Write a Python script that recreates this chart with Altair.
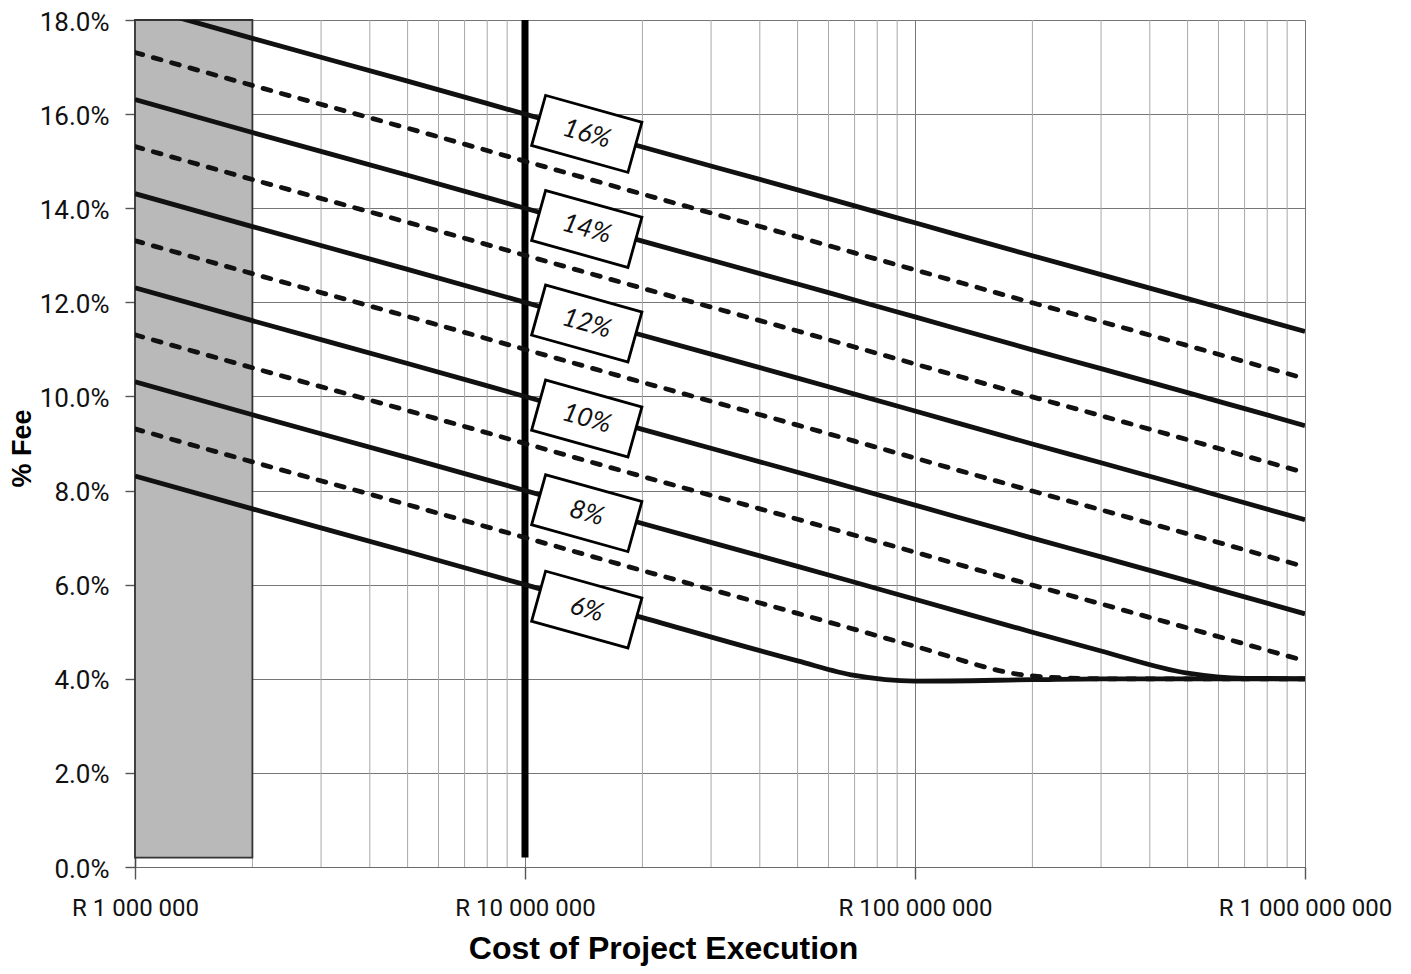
import altair as alt
import pandas as pd

# ---------------- data ----------------
cost = [1e6, 2e6, 5e6, 1e7, 2e7, 5e7, 7e7, 1e8, 2e8, 3e8, 5e8, 7e8, 1e9]

fee_16 = [18.31, 17.61, 16.70, 16.00, 15.30, 14.39, 14.05, 13.69, 12.99, 12.59, 12.08, 11.74, 11.38]
fee_15 = [17.31, 16.61, 15.70, 15.00, 14.30, 13.39, 13.05, 12.69, 11.99, 11.59, 11.08, 10.74, 10.38]
fee_14 = [16.31, 15.61, 14.70, 14.00, 13.30, 12.39, 12.05, 11.69, 10.99, 10.59, 10.08, 9.74, 9.38]
fee_13 = [15.31, 14.61, 13.70, 13.00, 12.30, 11.39, 11.05, 10.69, 9.99, 9.59, 9.08, 8.74, 8.38]
fee_12 = [14.31, 13.61, 12.70, 12.00, 11.30, 10.39, 10.05, 9.69, 8.99, 8.59, 8.08, 7.74, 7.38]
fee_11 = [13.31, 12.61, 11.70, 11.00, 10.30, 9.39, 9.05, 8.69, 7.99, 7.59, 7.08, 6.74, 6.38]
fee_10 = [12.31, 11.61, 10.70, 10.00, 9.30, 8.39, 8.05, 7.69, 6.99, 6.59, 6.08, 5.74, 5.38]
fee_9 = [11.31, 10.61, 9.70, 9.00, 8.30, 7.39, 7.05, 6.69, 5.99, 5.59, 5.08, 4.74, 4.38]
fee_8 = [10.31, 9.61, 8.70, 8.00, 7.30, 6.39, 6.05, 5.69, 4.99, 4.59, 4.12, 4.01, 4.00]
fee_7 = [9.31, 8.61, 7.70, 7.00, 6.30, 5.39, 5.05, 4.69, 4.06, 4.00, 4.00, 4.00, 4.00]
fee_6 = [8.31, 7.61, 6.70, 6.00, 5.30, 4.38, 4.07, 3.95, 3.98, 4.00, 4.00, 4.00, 4.00]

solid_series = {"16%": fee_16, "14%": fee_14, "12%": fee_12, "10%": fee_10, "8%": fee_8, "6%": fee_6}
dashed_series = {"15%": fee_15, "13%": fee_13, "11%": fee_11, "9%": fee_9, "7%": fee_7}

label_text = ["16%", "14%", "12%", "10%", "8%", "6%"]
label_cost = [1.44e7, 1.44e7, 1.44e7, 1.44e7, 1.44e7, 1.44e7]
label_fee = [15.58, 13.56, 11.55, 9.53, 7.52, 5.47]

minor_cost = [2e6, 3e6, 4e6, 5e6, 6e6, 7e6, 8e6, 9e6,
              2e7, 3e7, 4e7, 5e7, 6e7, 7e7, 8e7, 9e7,
              2e8, 3e8, 4e8, 5e8, 6e8, 7e8, 8e8, 9e8]

shade_from = [1e6]
shade_to = [2e6]
shade_low = [0.2]
shade_high = [18.0]

marker_cost = [1e7]
marker_low = [0.2]
marker_high = [18.0]

x_ticks = [1e6, 1e7, 1e8, 1e9]
x_tick_labels = ["R 1 000 000", "R 10 000 000", "R 100 000 000", "R 1 000 000 000"]
y_ticks = [0, 2, 4, 6, 8, 10, 12, 14, 16, 18]

# ---------------- tables ----------------
def long_df(d):
    rows = []
    for name, vals in d.items():
        for c, v in zip(cost, vals):
            rows.append({"series": name, "cost": c, "fee": v})
    return pd.DataFrame(rows)

solid_df = long_df(solid_series)
dashed_df = long_df(dashed_series)
label_df = pd.DataFrame({"text": label_text, "cost": label_cost, "fee": label_fee})
minor_df = pd.DataFrame({"cost": minor_cost})
shade_df = pd.DataFrame({"x1": shade_from, "x2": shade_to, "y1": shade_low, "y2": shade_high})
marker_df = pd.DataFrame({"cost": marker_cost, "y1": marker_low, "y2": marker_high})

# ---------------- scales / axes ----------------
xs = alt.Scale(type="log", domain=[1e6, 1e9], nice=False)
ys = alt.Scale(domain=[0, 18], nice=False)

label_expr = " : ".join(
    f"datum.value == {v:.0f} ? '{t}'" for v, t in zip(x_ticks, x_tick_labels)
) + " : ''"

x_axis = alt.Axis(
    values=x_ticks, labelExpr=label_expr, title="Cost of Project Execution",
    grid=True, gridColor="#767676", gridWidth=1,
    domainColor="#6a6a6a", domainWidth=1.2, tickColor="#555555", tickSize=12, tickWidth=1.4,
    labelFont="Roboto", labelFontSize=24, labelColor="#111", labelPadding=17,
    labelFlush=False, labelOverlap=False, labelLimit=400,
    titleFont="Liberation Sans", titleFontWeight="bold", titleFontSize=32, titleColor="#000",
    titleX=528, titleY=91, titleAlign="center", titleBaseline="alphabetic",
)
y_axis = alt.Axis(
    values=y_ticks, labelExpr="format(datum.value, '.1f') + '%'", title="% Fee",
    grid=True, gridColor="#767676", gridWidth=1,
    domainColor="#444444", domainWidth=1.6, tickColor="#555555", tickSize=10, tickWidth=1.4,
    labelFont="Roboto", labelFontSize=26, labelColor="#111", labelPadding=16,
    labelFlush=False, labelOverlap=False, labelOffset=2, labelLimit=200,
    titleFont="Liberation Sans", titleFontWeight="bold", titleFontSize=27, titleColor="#000",
    titleAngle=270, titleX=-113, titleY=428, titleAlign="center", titleBaseline="middle",
)


def X(field):
    return alt.X(field, scale=xs, axis=x_axis)


def Y(field):
    return alt.Y(field, scale=ys, axis=y_axis)


# ---------------- layers ----------------
minor = alt.Chart(minor_df).mark_rule(color="#a8a8a8", strokeWidth=1).encode(
    x=X("cost:Q"),
    y=alt.value(0), y2=alt.value(847),
)

shade = alt.Chart(shade_df).mark_rect(fill="#b9b9b9", stroke="#333333", strokeWidth=1.8).encode(
    x=X("x1:Q"), x2="x2:Q",
    y=Y("y1:Q"), y2="y2:Q",
)

marker = alt.Chart(marker_df).mark_rule(color="#000", strokeWidth=7).encode(
    x=X("cost:Q"),
    y=Y("y1:Q"), y2="y2:Q",
)

solid = alt.Chart(solid_df).mark_line(
    color="#111", strokeWidth=4.8, interpolate="monotone", clip=True
).encode(
    x=X("cost:Q"),
    y=Y("fee:Q"),
    detail="series:N",
)

dashed = alt.Chart(dashed_df).mark_line(
    color="#111", strokeWidth=4.8, interpolate="monotone", clip=True,
    strokeDash=[8, 11], strokeCap="round",
).encode(
    x=X("cost:Q"),
    y=Y("fee:Q"),
    detail="series:N",
)

box_path = "M-1,-0.52L1,-0.52L1,0.52L-1,0.52Z"
boxes = alt.Chart(label_df).mark_point(
    shape=box_path, size=10000, angle=15.6, filled=True,
    fill="white", stroke="#000", strokeWidth=2.8, opacity=1,
).encode(
    x=X("cost:Q"),
    y=Y("fee:Q"),
)

texts = alt.Chart(label_df).mark_text(
    font="Lato", fontStyle="italic", fontSize=26, angle=15.6,
    align="center", baseline="middle", color="#111",
).encode(
    x=X("cost:Q"),
    y=Y("fee:Q"),
    text="text:N",
)

chart = alt.layer(minor, shade, marker, dashed, solid, boxes, texts).properties(
    width=1170, height=847,
    autosize=alt.AutoSizeParams(type="none"),
    padding={"left": 127, "top": 12, "right": 96, "bottom": 99},
).configure_view(stroke=None).configure(background="white")

chart.save("out.html", embed_options={"renderer": "svg", "actions": False})
